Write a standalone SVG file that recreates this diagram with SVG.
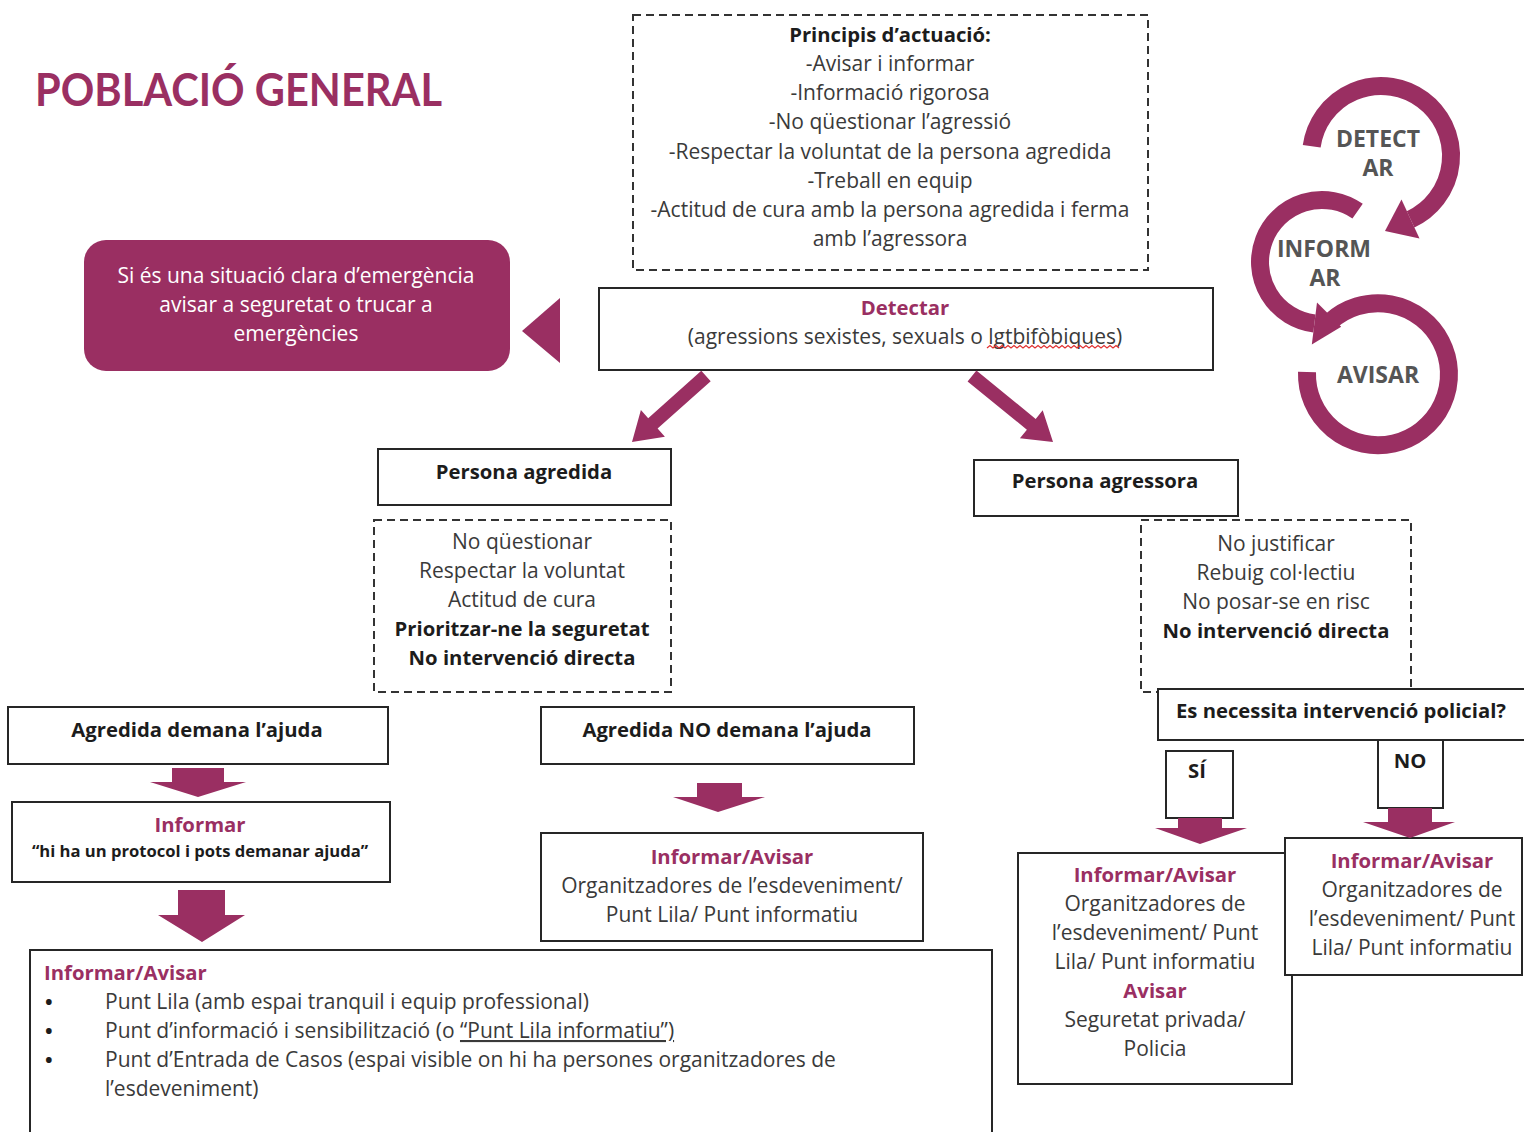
<svg xmlns="http://www.w3.org/2000/svg" width="1524" height="1132" viewBox="0 0 1524 1132">
<style>
text{font-family:"Open Sans",Lato,"Liberation Sans",sans-serif;font-size:21px;fill:#3a3a3a}
.c{text-anchor:middle}
.b{font-weight:bold;fill:#1c1c1c;font-size:20.3px}
.p{font-weight:bold;fill:#9a2f62;font-size:20.3px}
.w{fill:#ffffff}
.box{fill:#ffffff;stroke:#262626;stroke-width:2}
.dash{fill:#ffffff;stroke:#333333;stroke-width:2;stroke-dasharray:8 5}
.arr{fill:#9a2f62}
.ring{fill:none;stroke:#9a2f62;stroke-width:18}
.ic{font-weight:bold;font-size:23px;fill:#555555;text-anchor:middle}
</style>
<rect width="1524" height="1132" fill="#ffffff"/>

<g id="title">
<text x="35" y="106" class="p" style="font-family:Lato,'Open Sans',sans-serif;font-size:46px" textLength="407" lengthAdjust="spacingAndGlyphs">POBLACIÓ GENERAL</text>
</g>

<g id="principis">
<rect x="633" y="15" width="515" height="255" class="dash"/>
<text x="890" y="42" class="c b">Principis d’actuació:</text>
<text x="890" y="71" class="c">-Avisar i informar</text>
<text x="890" y="100" class="c">-Informació rigorosa</text>
<text x="890" y="129" class="c">-No qüestionar l’agressió</text>
<text x="890" y="159" class="c">-Respectar la voluntat de la persona agredida</text>
<text x="890" y="188" class="c">-Treball en equip</text>
<text x="890" y="217" class="c">-Actitud de cura amb la persona agredida i ferma</text>
<text x="890" y="246" class="c">amb l’agressora</text>
</g>

<g id="cycle">
<path class="ring" d="M1311.7,146.3 A70,70 0 1 1 1410.6,219.4"/>
<polygon class="arr" points="1419.5,238.5 1385,231 1401.5,199.5"/>
<path class="ring" d="M1357.6,211.2 A62,62 0 1 0 1314.4,323.5"/>
<polygon class="arr" points="1311.8,344.4 1341.2,326.8 1317,302.6"/>
<path class="ring" d="M1330.5,321.4 A71,71 0 1 1 1307,372"/>
<text x="1378" y="147" class="ic">DETECT</text>
<text x="1378" y="176" class="ic">AR</text>
<text x="1324" y="257" class="ic">INFORM</text>
<text x="1325" y="286" class="ic">AR</text>
<text x="1378" y="383" class="ic">AVISAR</text>
</g>

<g id="emergencia">
<rect x="84" y="240" width="426" height="131" rx="22" fill="#9a2f62"/>
<text x="296" y="283" class="c w">Si és una situació clara d’emergència</text>
<text x="296" y="312" class="c w">avisar a seguretat o trucar a</text>
<text x="296" y="341" class="c w">emergències</text>
</g>

<g id="detectar">
<rect x="599" y="288" width="614" height="82" class="box"/>
<text x="905" y="315" class="c p">Detectar</text>
<text x="905" y="344" class="c">(agressions sexistes, sexuals o lgtbifòbiques)</text>
<path d="M987,348 l3,-2.5 l3,2.5 l3,-2.5 l3,2.5 l3,-2.5 l3,2.5 l3,-2.5 l3,2.5 l3,-2.5 l3,2.5 l3,-2.5 l3,2.5 l3,-2.5 l3,2.5 l3,-2.5 l3,2.5 l3,-2.5 l3,2.5 l3,-2.5 l3,2.5 l3,-2.5 l3,2.5 l3,-2.5 l3,2.5 l3,-2.5 l3,2.5 l3,-2.5 l3,2.5 l3,-2.5 l3,2.5 l3,-2.5 l3,2.5 l3,-2.5 l3,2.5 l3,-2.5 l3,2.5 l3,-2.5 l3,2.5 l3,-2.5 l3,2.5 l3,-2.5 l3,2.5 l3,-2.5 l3,2.5" fill="none" stroke="#e03030" stroke-width="1.2"/>
</g>

<g id="persona-agredida">
<rect x="378" y="449" width="293" height="56" class="box"/>
<text x="524" y="479" class="c b">Persona agredida</text>
</g>

<g id="agredida-pautes">
<rect x="374" y="520" width="297" height="172" class="dash"/>
<text x="522" y="549" class="c">No qüestionar</text>
<text x="522" y="578" class="c">Respectar la voluntat</text>
<text x="522" y="607" class="c">Actitud de cura</text>
<text x="522" y="636" class="c b">Prioritzar-ne la seguretat</text>
<text x="522" y="665" class="c b">No intervenció directa</text>
</g>

<g id="persona-agressora">
<rect x="974" y="460" width="264" height="56" class="box"/>
<text x="1105" y="488" class="c b">Persona agressora</text>
</g>

<g id="agressora-pautes">
<rect x="1141" y="520" width="270" height="172" class="dash"/>
<text x="1276" y="551" class="c">No justificar</text>
<text x="1276" y="580" class="c">Rebuig col·lectiu</text>
<text x="1276" y="609" class="c">No posar-se en risc</text>
<text x="1276" y="638" class="c b">No intervenció directa</text>
</g>

<g id="intervencio">
<rect x="1158" y="689" width="400" height="51" class="box"/>
<text x="1176" y="718" class="b" textLength="330" lengthAdjust="spacingAndGlyphs">Es necessita intervenció policial?</text>
</g>

<g id="si">
<rect x="1166" y="751" width="67" height="67" class="box"/>
<text x="1197" y="778" class="c b">SÍ</text>
</g>

<g id="no">
<rect x="1378" y="740" width="65" height="68" class="box"/>
<text x="1410" y="768" class="c b">NO</text>
</g>

<g id="agredida-demana">
<rect x="8" y="707" width="380" height="57" class="box"/>
<text x="197" y="737" class="c b">Agredida demana l’ajuda</text>
</g>

<g id="informar">
<rect x="12" y="802" width="378" height="80" class="box"/>
<text x="200" y="832" class="c p">Informar</text>
<text x="200" y="857" class="c b" style="font-size:16.6px">“hi ha un protocol i pots demanar ajuda”</text>
</g>

<g id="agredida-no-demana">
<rect x="541" y="707" width="373" height="57" class="box"/>
<text x="727" y="737" class="c b">Agredida NO demana l’ajuda</text>
</g>

<g id="informar-avisar-mig">
<rect x="541" y="833" width="382" height="108" class="box"/>
<text x="732" y="864" class="c p">Informar/Avisar</text>
<text x="732" y="893" class="c">Organitzadores de l’esdeveniment/</text>
<text x="732" y="922" class="c">Punt Lila/ Punt informatiu</text>
</g>

<g id="informar-avisar-baix">
<rect x="30" y="950" width="962" height="200" class="box"/>
<text x="44" y="980" class="p">Informar/Avisar</text>
<text x="45" y="1009" class="b">•</text>
<text x="45" y="1038" class="b">•</text>
<text x="45" y="1067" class="b">•</text>
<text x="105" y="1009">Punt Lila (amb espai tranquil i equip professional)</text>
<text x="105" y="1038">Punt d’informació i sensibilització (o <tspan text-decoration="underline">“Punt Lila informatiu”)</tspan></text>
<text x="105" y="1067">Punt d’Entrada de Casos (espai visible on hi ha persones organitzadores de</text>
<text x="105" y="1096">l’esdeveniment)</text>
</g>

<g id="informar-avisar-si">
<rect x="1018" y="853" width="274" height="231" class="box"/>
<text x="1155" y="882" class="c p">Informar/Avisar</text>
<text x="1155" y="911" class="c">Organitzadores de</text>
<text x="1155" y="940" class="c">l’esdeveniment/ Punt</text>
<text x="1155" y="969" class="c">Lila/ Punt informatiu</text>
<text x="1155" y="998" class="c p">Avisar</text>
<text x="1155" y="1027" class="c">Seguretat privada/</text>
<text x="1155" y="1056" class="c">Policia</text>
</g>

<g id="informar-avisar-no">
<rect x="1285" y="838" width="237" height="137" class="box"/>
<text x="1412" y="868" class="c p">Informar/Avisar</text>
<text x="1412" y="897" class="c">Organitzadores de</text>
<text x="1412" y="926" class="c">l’esdeveniment/ Punt</text>
<text x="1412" y="955" class="c">Lila/ Punt informatiu</text>
</g>

<g id="connectors">
<polygon class="arr" points="522,331 560,298 560,363"/>
<polygon class="arr" points="710.7,381.2 657.6,428.6 664.9,436.8 632,442 640.9,410 648.2,418.2 701.3,370.8"/>
<polygon class="arr" points="967.6,381.4 1026.9,429.7 1019.9,438.3 1053,442 1042.7,410.3 1035.7,418.9 976.4,370.6"/>
<polygon class="arr" points="172,768 224,768 224,782 246,782 198,797 150,782 172,782"/>
<polygon class="arr" points="178,890 225,890 225,915 245,915 202,942 158,915 178,915"/>
<polygon class="arr" points="697,783 742,783 742,797 765,797 718,812 673,797 697,797"/>
<polygon class="arr" points="1178,818 1222,818 1222,828 1247,828 1200,844 1155,828 1178,828"/>
<polygon class="arr" points="1388,808 1432,808 1432,822 1455,822 1410,838 1363,822 1388,822"/>
</g>
</svg>
